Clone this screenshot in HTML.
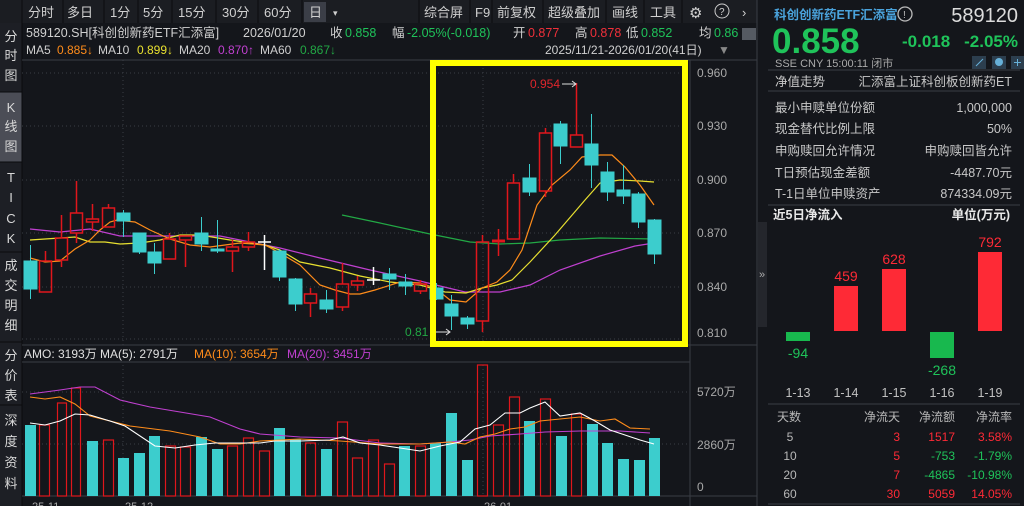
<!DOCTYPE html>
<html><head><meta charset="utf-8"><style>
html,body{margin:0;padding:0;background:#14161b;width:1024px;height:506px;overflow:hidden}
svg{display:block;font-family:"Liberation Sans","Noto Sans CJK SC",sans-serif}
</style></head><body>
<svg width="1024" height="506" viewBox="0 0 1024 506" xmlns="http://www.w3.org/2000/svg">
<rect width="1024" height="506" fill="#14161b"/>
<!-- toolbar -->
<rect x="0" y="0" width="757" height="23" fill="#1b1d22"/>
<g font-size="13" fill="#d0d0d0">
<text x="28" y="17">分时</text><text x="67" y="17">多日</text><text x="110" y="17">1分</text><text x="143" y="17">5分</text><text x="178" y="17">15分</text><text x="222" y="17">30分</text><text x="264" y="17">60分</text>
<rect x="304" y="2" width="22" height="20" fill="#3b3e47"/><text x="309" y="17">日</text><text x="333" y="16" font-size="9">▾</text>
<text x="424" y="17">综合屏</text><text x="475" y="17">F9</text><text x="497" y="17">前复权</text><text x="548" y="17">超级叠加</text><text x="612" y="17">画线</text><text x="650" y="17">工具</text>
<text x="689" y="18" font-size="15">⚙</text><circle cx="722" cy="11" r="7" fill="none" stroke="#ccc"/><text x="719" y="15" font-size="10">?</text><text x="742" y="17">›</text>
</g>
<g stroke="#0b0c0f"><line x1="22" y1="0" x2="22" y2="23"/><line x1="63" y1="0" x2="63" y2="23"/><line x1="104" y1="0" x2="104" y2="23"/><line x1="138" y1="0" x2="138" y2="23"/><line x1="172" y1="0" x2="172" y2="23"/><line x1="216" y1="0" x2="216" y2="23"/><line x1="258" y1="0" x2="258" y2="23"/><line x1="302" y1="0" x2="302" y2="23"/><line x1="419" y1="0" x2="419" y2="23"/><line x1="470" y1="0" x2="470" y2="23"/><line x1="492" y1="0" x2="492" y2="23"/><line x1="543" y1="0" x2="543" y2="23"/><line x1="606" y1="0" x2="606" y2="23"/><line x1="644" y1="0" x2="644" y2="23"/><line x1="682" y1="0" x2="682" y2="23"/></g>
<!-- sidebar -->
<rect x="0" y="23" width="22" height="483" fill="#1d1f25"/>
<rect x="0" y="92" width="22" height="70" fill="#4b4d56"/>
<g stroke="#0a0b0d"><line x1="0" y1="92" x2="22" y2="92"/><line x1="0" y1="162" x2="22" y2="162"/><line x1="0" y1="252" x2="22" y2="252"/><line x1="0" y1="342" x2="22" y2="342"/><line x1="0" y1="405" x2="22" y2="405"/><line x1="22" y1="23" x2="22" y2="506"/></g>
<g font-size="13" fill="#d8d8d8" text-anchor="middle">
<text x="11" y="41">分</text><text x="11" y="60">时</text><text x="11" y="80">图</text>
<text x="11" y="112">K</text><text x="11" y="131">线</text><text x="11" y="151">图</text>
<text x="11" y="182">T</text><text x="11" y="202">I</text><text x="11" y="223">C</text><text x="11" y="243">K</text>
<text x="11" y="270">成</text><text x="11" y="290">交</text><text x="11" y="310">明</text><text x="11" y="330">细</text>
<text x="11" y="360">分</text><text x="11" y="380">价</text><text x="11" y="400">表</text>
<text x="11" y="425">深</text><text x="11" y="446">度</text><text x="11" y="467">资</text><text x="11" y="488">料</text>
</g>
<!-- header rows -->
<g font-size="12.5" fill="#d0d0d0">
<text x="26" y="37">589120.SH[科创创新药ETF汇添富]</text><text x="243" y="37">2026/01/20</text>
<text x="330" y="37">收</text><text x="345" y="37" fill="#1fc35a">0.858</text>
<text x="392" y="37">幅</text><text x="407" y="37" fill="#1fc35a">-2.05%(-0.018)</text>
<text x="513" y="37">开</text><text x="528" y="37" fill="#f0303a">0.877</text>
<text x="575" y="37">高</text><text x="590" y="37" fill="#f0303a">0.878</text>
<text x="626" y="37">低</text><text x="641" y="37" fill="#1fc35a">0.852</text>
<text x="699" y="37">均</text><text x="714" y="37" fill="#1fc35a">0.86</text>
</g>
<g font-size="12" fill="#d0d0d0">
<text x="26" y="54">MA5</text><text x="57" y="54" fill="#ff8c1a">0.885↓</text>
<text x="98" y="54">MA10</text><text x="137" y="54" fill="#e8e030">0.899↓</text>
<text x="179" y="54">MA20</text><text x="218" y="54" fill="#c040d0">0.870↑</text>
<text x="260" y="54">MA60</text><text x="300" y="54" fill="#22a845">0.867↓</text>
<text x="545" y="54">2025/11/21-2026/01/20(41日)</text><text x="718" y="54" fill="#888">▼</text>
</g>
<rect x="742" y="28" width="14" height="12" fill="#555a62"/>
<!-- axes & grid -->
<g stroke="#3a3d45" stroke-dasharray="1,3">
<line x1="22" y1="73" x2="690" y2="73"/><line x1="22" y1="126" x2="690" y2="126"/><line x1="22" y1="180" x2="690" y2="180"/><line x1="22" y1="233" x2="690" y2="233"/><line x1="22" y1="287" x2="690" y2="287"/><line x1="22" y1="339" x2="690" y2="339"/>
<line x1="123" y1="60" x2="123" y2="345"/><line x1="483" y1="60" x2="483" y2="345"/>
<line x1="22" y1="392" x2="690" y2="392"/><line x1="22" y1="444" x2="690" y2="444"/>
<line x1="123" y1="365" x2="123" y2="496"/><line x1="483" y1="365" x2="483" y2="496"/>
</g>
<g stroke="#3a3d45"><line x1="690" y1="60" x2="690" y2="506"/><line x1="757" y1="0" x2="757" y2="506"/><line x1="22" y1="345" x2="757" y2="345"/><line x1="22" y1="362" x2="690" y2="362"/><line x1="22" y1="496" x2="757" y2="496"/><line x1="22" y1="60" x2="757" y2="60"/></g>
<g font-size="12" fill="#a8a8a8">
<text x="697" y="77">0.960</text><text x="697" y="130">0.930</text><text x="697" y="184">0.900</text><text x="697" y="237">0.870</text><text x="697" y="291">0.840</text><text x="697" y="337">0.810</text>
<text x="697" y="396">5720万</text><text x="697" y="449">2860万</text><text x="697" y="491">0</text>
</g>
<g font-size="11" fill="#a8a8a8"><text x="32" y="510">25-11</text><text x="125" y="510">25-12</text><text x="484" y="510">26-01</text></g>
<!-- MA lines -->
<g fill="none" stroke-width="1.2">
<polyline stroke="#22a845" points="342,215 380,223 430,234 470,242 500,244 530,243 560,240 600,238 654,239"/>
<polyline stroke="#c040d0" points="30,229 60,232 90,229 120,236 150,236 190,236 220,236 250,242 280,248 320,258 370,270 420,281 440,286 465,292 500,292 530,285 560,270 600,256 635,246 654,243"/>
<polyline stroke="#e8e030" points="30,240 60,238 75,237 90,242 105,242 120,244 140,243 160,240 180,235 200,235 230,240 265,245 280,250 300,262 330,268 360,276 390,282 420,285 445,292 466,293 482,288 497,285 512,280 530,262 555,235 585,200 600,183 620,180 640,181 654,182"/>
<polyline stroke="#ff8c1a" points="30,258 45,262 60,261 75,249 90,240 100,230 110,222 117,220 125,221 135,222 150,230 170,239 190,245 210,247 240,243 265,245 280,253 300,265 320,285 335,290 350,294 360,294 375,290 400,282 420,283 435,288 450,300 466,302 482,288 497,282 510,270 522,250 537,205 552,185 570,170 582,157 600,155 612,155 625,167 640,185 654,205"/>
</g>
<!-- candles -->
<g fill="#3ccdcd" stroke="#3ccdcd">
<line x1="30.5" y1="245" x2="30.5" y2="299"/><rect x="24" y="261" width="13" height="28"/>
<line x1="123.5" y1="210" x2="123.5" y2="237"/><rect x="117" y="213" width="13" height="8"/>
<line x1="139.5" y1="233" x2="139.5" y2="254"/><rect x="133" y="233" width="13" height="19"/>
<line x1="154.5" y1="243" x2="154.5" y2="274"/><rect x="148" y="252" width="13" height="11"/>
<line x1="201.5" y1="217" x2="201.5" y2="251"/><rect x="195" y="233" width="13" height="11"/>
<line x1="217.5" y1="220" x2="217.5" y2="253"/><rect x="211" y="249" width="13" height="2"/>
<line x1="279.5" y1="249" x2="279.5" y2="281"/><rect x="273" y="251" width="13" height="26"/>
<line x1="295.5" y1="278" x2="295.5" y2="311"/><rect x="289" y="279" width="13" height="25"/>
<line x1="326.5" y1="290" x2="326.5" y2="313"/><rect x="320" y="300" width="13" height="9"/>
<line x1="389.5" y1="268" x2="389.5" y2="290"/><rect x="383" y="274" width="13" height="5"/>
<line x1="405.5" y1="274" x2="405.5" y2="295"/><rect x="399" y="282" width="13" height="4"/>
<line x1="436.5" y1="283" x2="436.5" y2="300"/><rect x="430" y="288" width="13" height="11"/>
<line x1="451.5" y1="295" x2="451.5" y2="330"/><rect x="445" y="304" width="13" height="12"/>
<line x1="467.5" y1="316" x2="467.5" y2="329"/><rect x="461" y="318" width="13" height="6"/>
<line x1="529.5" y1="164" x2="529.5" y2="196"/><rect x="523" y="178" width="13" height="14"/>
<line x1="560.5" y1="121" x2="560.5" y2="164"/><rect x="554" y="124" width="13" height="22"/>
<line x1="591.5" y1="114" x2="591.5" y2="188"/><rect x="585" y="144" width="13" height="21"/>
<line x1="607.5" y1="162" x2="607.5" y2="201"/><rect x="601" y="172" width="13" height="20"/>
<line x1="623.5" y1="165" x2="623.5" y2="204"/><rect x="617" y="190" width="13" height="6"/>
<line x1="638.5" y1="192" x2="638.5" y2="228"/><rect x="632" y="194" width="13" height="28"/>
<line x1="654.5" y1="219" x2="654.5" y2="264"/><rect x="648" y="220" width="13" height="34"/>
</g>
<g fill="none" stroke="#e0161c" stroke-width="1.5">
<rect x="39.5" y="261" width="12" height="31"/><line x1="45.5" y1="251" x2="45.5" y2="261"/>
<rect x="55.5" y="238" width="12" height="22"/><line x1="61.5" y1="215" x2="61.5" y2="238"/><line x1="61.5" y1="260" x2="61.5" y2="267"/>
<rect x="70.5" y="213" width="12" height="20"/><line x1="76.5" y1="181" x2="76.5" y2="213"/><line x1="76.5" y1="233" x2="76.5" y2="243"/>
<rect x="86.5" y="219" width="12" height="3"/><line x1="92.5" y1="204" x2="92.5" y2="219"/><line x1="92.5" y1="222" x2="92.5" y2="231"/>
<rect x="102.5" y="208" width="12" height="19"/><line x1="108.5" y1="204" x2="108.5" y2="208"/>
<rect x="163.5" y="239" width="12" height="20"/><line x1="169.5" y1="233" x2="169.5" y2="239"/>
<rect x="179.5" y="236" width="12" height="4"/><line x1="185.5" y1="240" x2="185.5" y2="267"/>
<rect x="226.5" y="247" width="12" height="4"/><line x1="232.5" y1="240" x2="232.5" y2="247"/><line x1="232.5" y1="251" x2="232.5" y2="272"/>
<rect x="242.5" y="242" width="12" height="5"/><line x1="248.5" y1="232" x2="248.5" y2="242"/><line x1="248.5" y1="247" x2="248.5" y2="251"/>
<rect x="304.5" y="294" width="12" height="9"/><line x1="310.5" y1="288" x2="310.5" y2="294"/><line x1="310.5" y1="303" x2="310.5" y2="317"/>
<rect x="336.5" y="284" width="12" height="23"/><line x1="342.5" y1="263" x2="342.5" y2="284"/><line x1="342.5" y1="307" x2="342.5" y2="311"/>
<rect x="351.5" y="281" width="12" height="4"/><line x1="357.5" y1="276" x2="357.5" y2="281"/><line x1="357.5" y1="285" x2="357.5" y2="291"/>
<rect x="414.5" y="284" width="12" height="7"/><line x1="420.5" y1="280" x2="420.5" y2="284"/><line x1="420.5" y1="291" x2="420.5" y2="294"/>
<rect x="476.5" y="242" width="12" height="79"/><line x1="482.5" y1="235" x2="482.5" y2="242"/><line x1="482.5" y1="321" x2="482.5" y2="332"/>
<line x1="492" y1="241" x2="505" y2="241" stroke-width="3"/><line x1="498.5" y1="229" x2="498.5" y2="256"/>
<rect x="507.5" y="183" width="12" height="56"/><line x1="513.5" y1="174" x2="513.5" y2="183"/>
<rect x="539.5" y="133" width="12" height="58"/><line x1="545.5" y1="128" x2="545.5" y2="133"/><line x1="545.5" y1="191" x2="545.5" y2="197"/>
<rect x="570.5" y="135" width="12" height="12"/><line x1="576.5" y1="83" x2="576.5" y2="135"/>
</g>
<g stroke="#ffffff" stroke-width="1.5"><line x1="258" y1="242" x2="271" y2="242"/><line x1="264.5" y1="235" x2="264.5" y2="270"/><line x1="367" y1="280" x2="380" y2="280"/><line x1="373.5" y1="267" x2="373.5" y2="285"/></g>
<text x="530" y="88" font-size="12" fill="#e0262c">0.954</text>
<g stroke="#ddd" fill="none"><line x1="562" y1="84" x2="576" y2="84"/><polyline points="572,81 576,84 572,87"/><line x1="430" y1="332" x2="450" y2="332"/><polyline points="446,329 450,332 446,335"/></g>
<text x="405" y="336" font-size="12" fill="#22a845">0.81</text>
<!-- yellow box -->
<rect x="433" y="63" width="252" height="281" fill="none" stroke="#ffff00" stroke-width="6"/>
<!-- volume -->
<g font-size="12"><text x="24" y="358" fill="#e0e0e0">AMO: 3193万 MA(5): 2791万</text><text x="194" y="358" fill="#ff8c1a">MA(10): 3654万</text><text x="287" y="358" fill="#c040d0">MA(20): 3451万</text></g>
<g fill="#3ccdcd">
<rect x="25" y="425" width="11" height="71"/><rect x="87" y="441" width="11" height="55"/><rect x="118" y="458" width="11" height="38"/><rect x="134" y="453" width="11" height="43"/><rect x="149" y="436" width="11" height="60"/><rect x="196" y="437" width="11" height="59"/><rect x="212" y="449" width="11" height="47"/><rect x="274" y="428" width="11" height="68"/><rect x="290" y="439" width="11" height="57"/><rect x="321" y="449" width="11" height="47"/><rect x="399" y="446" width="11" height="50"/><rect x="430" y="443" width="11" height="53"/><rect x="446" y="413" width="11" height="83"/><rect x="462" y="460" width="11" height="36"/><rect x="524" y="421" width="11" height="75"/><rect x="556" y="436" width="11" height="60"/><rect x="587" y="424" width="11" height="72"/><rect x="602" y="443" width="11" height="53"/><rect x="618" y="459" width="11" height="37"/><rect x="634" y="460" width="11" height="36"/><rect x="649" y="438" width="11" height="58"/>
</g>
<g fill="none" stroke="#e0161c" stroke-width="1.2">
<rect x="39.5" y="425" width="10" height="71"/><rect x="57.5" y="403" width="9" height="93"/><rect x="71.5" y="388" width="9" height="108"/><rect x="103.5" y="440" width="10" height="56"/><rect x="165.5" y="446" width="10" height="50"/><rect x="180.5" y="447" width="10" height="49"/><rect x="227.5" y="446" width="10" height="50"/><rect x="243.5" y="438" width="10" height="58"/><rect x="259.5" y="451" width="10" height="45"/><rect x="305.5" y="443" width="10" height="53"/><rect x="337.5" y="422" width="10" height="74"/><rect x="352.5" y="458" width="10" height="38"/><rect x="368.5" y="440" width="10" height="56"/><rect x="384.5" y="464" width="10" height="32"/><rect x="415.5" y="446" width="10" height="50"/><rect x="477.5" y="365" width="10" height="131"/><rect x="493.5" y="425" width="10" height="71"/><rect x="509.5" y="397" width="10" height="99"/><rect x="540.5" y="399" width="10" height="97"/><rect x="571.5" y="414" width="10" height="82"/>
</g>
<g fill="none" stroke-width="1.1">
<polyline stroke="#c040d0" points="30,394 45,392 60,390 80,387 95,387 120,400 150,407 180,412 210,417 240,429 260,434 300,437 340,438 380,443 420,444 450,442 470,440 490,436 520,434 545,432 580,431 620,431 650,433"/>
<polyline stroke="#ff8c1a" points="30,397 45,399 60,397 75,404 90,416 110,421 130,426 170,431 200,437 220,444 240,444 260,441 300,439 340,441 380,444 420,444 450,442 465,444 480,437 495,434 510,429 525,427 540,421 560,419 580,417 600,421 615,419 630,428 650,429"/>
<polyline stroke="#ffffff" points="30,423 45,425 60,421 75,414 90,415 110,421 125,426 155,446 175,448 195,445 215,443 240,443 260,443 275,441 300,441 330,440 343,437 360,443 380,445 400,448 420,451 440,446 460,442 475,429 490,425 505,413 520,413 530,408 545,402 560,416 580,413 595,421 610,430 625,435 640,440 654,444"/>
</g>
<!-- right panel -->
<rect x="758" y="0" width="266" height="506" fill="#14161b"/>
<text x="774" y="19" font-size="12.5" font-weight="bold" fill="#4aa3dc">科创创新药ETF汇添富</text>
<circle cx="905" cy="14" r="7" fill="none" stroke="#bbb" stroke-width="1.3"/><text x="903" y="18" font-size="10" fill="#bbb">!</text>
<text x="1018" y="22" font-size="20" fill="#dcdcdc" text-anchor="end">589120</text>
<text x="772" y="53" font-size="35" font-weight="bold" fill="#1fc35a">0.858</text>
<text x="902" y="47" font-size="17" font-weight="bold" fill="#1fc35a">-0.018</text>
<text x="1018" y="47" font-size="17" font-weight="bold" fill="#1fc35a" text-anchor="end">-2.05%</text>
<text x="775" y="67" font-size="11" fill="#aaa">SSE  CNY  15:00:11  闭市</text>
<rect x="972" y="56" width="14" height="13" fill="#2c3e4e"/><rect x="992" y="56" width="14" height="13" fill="#2c3e4e"/><rect x="1011" y="56" width="13" height="13" fill="#2c3e4e"/>
<g stroke="#66b0d8"><line x1="976" y1="66" x2="983" y2="59"/><line x1="1014" y1="62.5" x2="1021" y2="62.5"/><line x1="1017.5" y1="59" x2="1017.5" y2="66"/></g><circle cx="999" cy="62" r="4" fill="#66b0d8"/>
<line x1="768" y1="70" x2="1020" y2="70" stroke="#3a3d45"/>
<g font-size="12.5" fill="#c8c8c8">
<text x="775" y="86">净值走势</text><text x="1012" y="86" text-anchor="end">汇添富上证科创板创新药ET</text>
<text x="775" y="112">最小申赎单位份额</text><text x="1012" y="112" text-anchor="end">1,000,000</text>
<text x="775" y="133">现金替代比例上限</text><text x="1012" y="133" text-anchor="end">50%</text>
<text x="775" y="155">申购赎回允许情况</text><text x="1012" y="155" text-anchor="end">申购赎回皆允许</text>
<text x="775" y="177">T日预估现金差额</text><text x="1012" y="177" text-anchor="end">-4487.70元</text>
<text x="775" y="198">T-1日单位申赎资产</text><text x="1012" y="198" text-anchor="end">874334.09元</text>
</g>
<line x1="768" y1="91" x2="1020" y2="91" stroke="#3a3d45"/>
<line x1="768" y1="205" x2="1020" y2="205" stroke="#3a3d45"/>
<text x="773" y="219" font-size="12.5" font-weight="bold" fill="#e8e8e8">近5日净流入</text>
<text x="1010" y="219" font-size="12.5" font-weight="bold" fill="#e8e8e8" text-anchor="end">单位(万元)</text>
<rect x="758" y="222" width="9" height="105" fill="#24262c"/><text x="759" y="278" font-size="11" fill="#aaa">»</text>
<rect x="786" y="332" width="24" height="9" fill="#18b84e"/><rect x="834" y="286" width="24" height="45" fill="#fe2a36"/><rect x="882" y="269" width="24" height="62" fill="#fe2a36"/><rect x="930" y="332" width="24" height="26" fill="#18b84e"/><rect x="978" y="252" width="24" height="79" fill="#fe2a36"/>
<g font-size="14" text-anchor="middle">
<text x="798" y="358" fill="#1fc35a">-94</text><text x="846" y="281" fill="#fe2a36">459</text><text x="894" y="264" fill="#fe2a36">628</text><text x="942" y="375" fill="#1fc35a">-268</text><text x="990" y="247" fill="#fe2a36">792</text>
</g>
<g font-size="12.5" fill="#c0c0c0" text-anchor="middle"><text x="798" y="397">1-13</text><text x="846" y="397">1-14</text><text x="894" y="397">1-15</text><text x="942" y="397">1-16</text><text x="990" y="397">1-19</text></g>
<line x1="768" y1="404" x2="1020" y2="404" stroke="#3a3d45"/>
<g font-size="12" fill="#b8b8b8"><text x="777" y="421">天数</text><text x="900" y="421" text-anchor="end">净流天</text><text x="955" y="421" text-anchor="end">净流额</text><text x="1012" y="421" text-anchor="end">净流率</text>
<text x="790" y="441" text-anchor="middle">5</text><text x="790" y="460" text-anchor="middle">10</text><text x="790" y="479" text-anchor="middle">20</text><text x="790" y="498" text-anchor="middle">60</text></g>
<g font-size="12" text-anchor="end">
<text x="900" y="441" fill="#fe2a36">3</text><text x="955" y="441" fill="#fe2a36">1517</text><text x="1012" y="441" fill="#fe2a36">3.58%</text>
<text x="900" y="460" fill="#fe2a36">5</text><text x="955" y="460" fill="#1fc35a">-753</text><text x="1012" y="460" fill="#1fc35a">-1.79%</text>
<text x="900" y="479" fill="#fe2a36">7</text><text x="955" y="479" fill="#1fc35a">-4865</text><text x="1012" y="479" fill="#1fc35a">-10.98%</text>
<text x="900" y="498" fill="#fe2a36">30</text><text x="955" y="498" fill="#fe2a36">5059</text><text x="1012" y="498" fill="#fe2a36">14.05%</text>
</g>
<line x1="768" y1="504" x2="1020" y2="504" stroke="#3a3d45"/>
</svg>
</body></html>
